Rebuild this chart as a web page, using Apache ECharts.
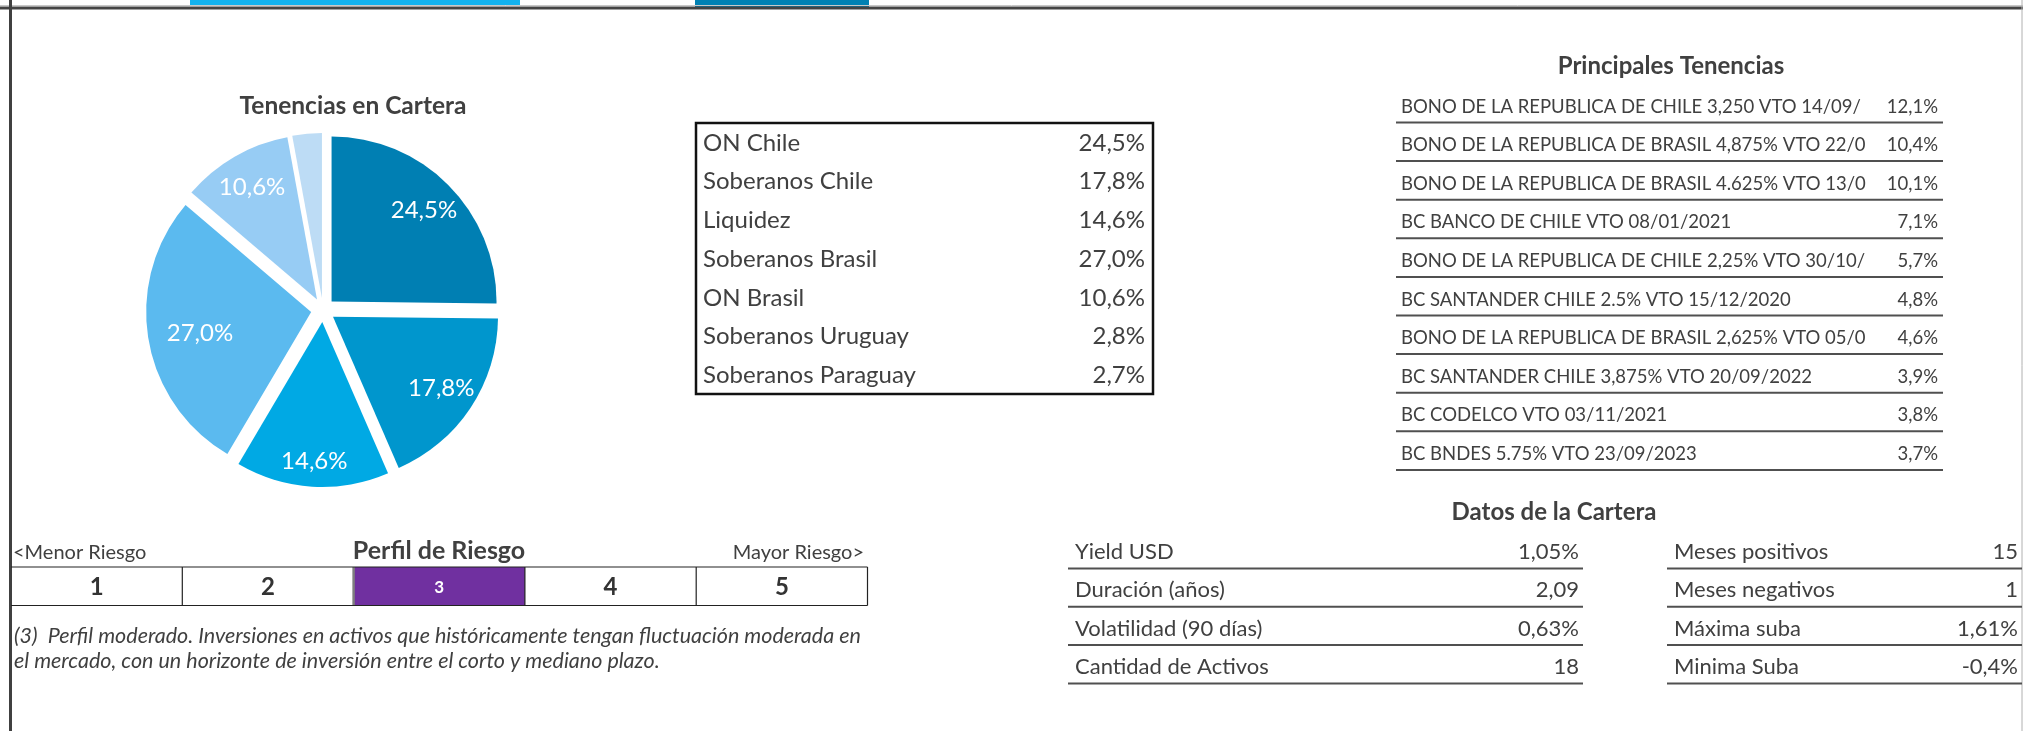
<!DOCTYPE html>
<html>
<head>
<meta charset="utf-8">
<title>Tenencias en Cartera</title>
<script src="https://cdn.jsdelivr.net/npm/echarts@6/dist/echarts.min.js"></script>
<style>
  html, body { margin: 0; padding: 0; background: #fff; }
  #chart { width: 2023px; height: 731px; }
</style>
</head>
<body>
<div id="chart"></div>
<script>
// composición por sector (el pie solo toma las 6 primeras filas, como el original)
var sectorNames = ["ON Chile", "Soberanos Chile", "Liquidez", "Soberanos Brasil", "ON Brasil", "Soberanos Uruguay", "Soberanos Paraguay"];
var sectorValues = [24.5, 17.8, 14.6, 27.0, 10.6, 2.8, 2.7];
var sectorColors = ["#007fb3", "#0096cd", "#00a9e4", "#5bbaef", "#97ccf4", "#bddcf5"];
var pieCount = 6;

var holdingNames = [
  "BONO DE LA REPUBLICA DE CHILE 3,250 VTO 14/09/2",
  "BONO DE LA REPUBLICA DE BRASIL 4,875% VTO 22/0",
  "BONO DE LA REPUBLICA DE BRASIL 4.625% VTO 13/0",
  "BC BANCO DE CHILE VTO 08/01/2021",
  "BONO DE LA REPUBLICA DE CHILE 2,25% VTO 30/10/",
  "BC SANTANDER CHILE 2.5% VTO 15/12/2020",
  "BONO DE LA REPUBLICA DE BRASIL 2,625% VTO 05/0",
  "BC SANTANDER CHILE 3,875% VTO 20/09/2022",
  "BC CODELCO VTO 03/11/2021",
  "BC BNDES 5.75% VTO 23/09/2023"
];
var holdingValues = [12.1, 10.4, 10.1, 7.1, 5.7, 4.8, 4.6, 3.9, 3.8, 3.7];

var riskLevels = [1, 2, 3, 4, 5];
var riskSelected = 3;
var riskText = [
  "(3)  Perfil moderado. Inversiones en activos que históricamente tengan fluctuación moderada en",
  "el mercado, con un horizonte de inversión entre el corto y mediano plazo."
];

var statsLeftLabels = ["Yield USD", "Duración (años)", "Volatilidad (90 días)", "Cantidad de Activos"];
var statsLeftValues = [1.05, 2.09, 0.63, 18];
var statsLeftFormats = ["pct2", "num2", "pct2", "int"];
var statsRightLabels = ["Meses positivos", "Meses negativos", "Máxima suba", "Minima Suba"];
var statsRightValues = [15, 1, 1.61, -0.4];
var statsRightFormats = ["int", "int", "pct2", "pct1"];

var FONT = "Lato";
var INK = "#404040";

// Excel acomoda algunas etiquetas del pie más adentro/afuera que el resto
var labelNudge = { "Soberanos Brasil": [17, 0], "Liquidez": [0, 10] };

function fmt(v, kind) {
  if (kind === "int") return String(v);
  var d = kind === "pct1" ? 1 : 2;
  var s = v.toFixed(d).replace(".", ",");
  return kind.indexOf("pct") === 0 ? s + "%" : s;
}

function text(x, y, str, font, align, extra) {
  var style = {
    text: str,
    font: font,
    fill: INK,
    textAlign: align || "left",
    textVerticalAlign: "middle"
  };
  if (extra) for (var k in extra) style[k] = extra[k];
  return { type: "text", x: x, y: y, silent: true, style: style };
}

function hline(x1, x2, y, color, w) {
  return {
    type: "line", silent: true,
    shape: { x1: x1, y1: y, x2: x2, y2: y },
    style: { stroke: color, lineWidth: w }
  };
}

function vline(x, y1, y2, color, w) {
  return {
    type: "line", silent: true,
    shape: { x1: x, y1: y1, x2: x, y2: y2 },
    style: { stroke: color, lineWidth: w }
  };
}

var g = [];

// marco y restos de la fila superior
g.push({ type: "rect", silent: true, shape: { x: 190, y: 0, width: 330, height: 5 }, style: { fill: "#12b2ef" } });
g.push({ type: "rect", silent: true, shape: { x: 695, y: 0, width: 174, height: 7 }, style: { fill: "#0081b3" } });
g.push(hline(0, 2023, 5.5, "#c8c8c8", 1));
g.push(hline(0, 2023, 8, "#444", 3));
g.push(vline(10.5, 0, 731, "#404040", 3));
g.push(vline(2022, 0, 731, "#b0b0b0", 1));

// Tenencias en Cartera
g.push(text(353, 106, "Tenencias en Cartera", "bold 24.5px " + FONT, "center"));

// tabla de sectores
var boxX = 696, boxY = 123, boxW = 457, boxH = 271, rowH = 38.7;
g.push({ type: "rect", silent: true, shape: { x: boxX, y: boxY, width: boxW, height: boxH }, style: { fill: "none", stroke: "#111", lineWidth: 2.5 } });
sectorNames.forEach(function (name, i) {
  var y = 143 + i * rowH;
  g.push(text(boxX + 7, y, name, "24px " + FONT, "left"));
  g.push(text(boxX + boxW - 8, y, fmt(sectorValues[i], "pct1"), "24px " + FONT, "right"));
});

// Principales Tenencias
g.push(text(1671, 66, "Principales Tenencias", "bold 24px " + FONT, "center"));
holdingNames.forEach(function (name, i) {
  var y = 106.7 + i * 38.6;
  g.push(text(1401, y, name, "18.5px " + FONT, "left", { width: 466, overflow: "truncate", ellipsis: "" }));
  g.push(text(1938, y, fmt(holdingValues[i], "pct1"), "18.5px " + FONT, "right"));
  g.push(hline(1396, 1943, y + 15.8, "#505050", 2));
});

// Perfil de Riesgo
g.push(text(13, 553, "<Menor Riesgo", "20px " + FONT, "left"));
g.push(text(439, 551, "Perfil de Riesgo", "bold 25px " + FONT, "center"));
g.push(text(864, 553, "Mayor Riesgo>", "20px " + FONT, "right"));
var cellX = 11, cellW = 171.3, cellTop = 567, cellH = 38.5;
riskLevels.forEach(function (lvl, i) {
  var x = cellX + i * cellW;
  var on = lvl === riskSelected;
  if (on) {
    g.push({ type: "rect", silent: true, shape: { x: x, y: cellTop, width: cellW, height: cellH }, style: { fill: "#7030a0" } });
  }
  g.push(text(x + cellW / 2, cellTop + cellH / 2 + 1, String(lvl),
    on ? "bold 17px " + FONT : "bold 24px " + FONT, "center", on ? { fill: "#fff" } : { fill: "#333" }));
  if (i > 0) g.push(vline(x, cellTop, cellTop + cellH, on ? "#7f7f7f" : "#222", on ? 2.5 : 1.2));
});
g.push(hline(cellX, cellX + 5 * cellW, cellTop, "#222", 1.2));
g.push(hline(cellX, cellX + 5 * cellW, cellTop + cellH, "#222", 1.2));
g.push(vline(cellX + 5 * cellW, cellTop, cellTop + cellH, "#222", 1.2));
riskText.forEach(function (line, i) {
  g.push(text(14, 636 + i * 25, line, "italic 21.5px " + FONT, "left"));
});

// Datos de la Cartera
g.push(text(1554, 512, "Datos de la Cartera", "bold 24px " + FONT, "center"));
statsLeftLabels.forEach(function (lab, i) {
  var y = 552 + i * 38.3;
  g.push(text(1075, y, lab, "22px " + FONT, "left"));
  g.push(text(1579, y, fmt(statsLeftValues[i], statsLeftFormats[i]), "22px " + FONT, "right"));
  g.push(hline(1068, 1583, y + 16.5, "#505050", 2));
});
statsRightLabels.forEach(function (lab, i) {
  var y = 552 + i * 38.3;
  g.push(text(1674, y, lab, "22px " + FONT, "left"));
  g.push(text(2018, y, fmt(statsRightValues[i], statsRightFormats[i]), "22px " + FONT, "right"));
  g.push(hline(1667, 2022, y + 16.5, "#505050", 2));
});

// pie explotado: una serie para los sectores y otra transparente para las etiquetas
var pieCenter = [323, 310];
var pieRadius = 165;
var pieData = sectorNames.slice(0, pieCount).map(function (name, i) {
  return { name: name, value: sectorValues[i], selected: true, itemStyle: { color: sectorColors[i] } };
});
var labelData = sectorNames.slice(0, pieCount).map(function (name, i) {
  return {
    name: name, value: sectorValues[i], selected: true,
    label: { show: sectorValues[i] > 5 }
  };
});

var chart = echarts.init(document.getElementById("chart"), null, { renderer: "canvas" });
chart.setOption({
  animation: false,
  backgroundColor: "#fff",
  graphic: { elements: g },
  series: [
    {
      type: "pie",
      silent: true,
      center: pieCenter,
      radius: [0, pieRadius],
      startAngle: 90,
      clockwise: true,
      selectedMode: "multiple",
      selectedOffset: 12,
      avoidLabelOverlap: false,
      label: { show: false },
      labelLine: { show: false },
      emphasis: { disabled: true },
      data: pieData
    },
    {
      type: "pie",
      silent: true,
      center: pieCenter,
      radius: [89, pieRadius],
      startAngle: 90,
      clockwise: true,
      selectedMode: "multiple",
      selectedOffset: 12,
      avoidLabelOverlap: false,
      itemStyle: { color: "rgba(0,0,0,0)" },
      label: {
        position: "inside",
        color: "#fff",
        fontFamily: FONT,
        fontSize: 24,
        formatter: function (p) { return fmt(p.value, "pct1"); }
      },
      labelLayout: function (p) {
        var n = labelNudge[sectorNames[p.dataIndex]];
        return n ? { dx: n[0], dy: n[1] } : {};
      },
      labelLine: { show: false },
      emphasis: { disabled: true },
      data: labelData
    }
  ]
});
</script>
</body>
</html>
